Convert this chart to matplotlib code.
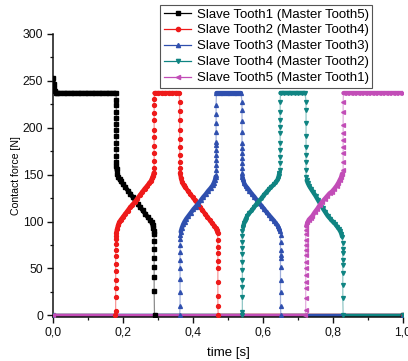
import numpy as np
import matplotlib
matplotlib.use("Agg")
import matplotlib.pyplot as plt
from matplotlib.ticker import MultipleLocator, FixedLocator, FixedFormatter

plt.rcParams['font.family'] = ['Liberation Sans', 'DejaVu Sans']

# ---------------- data ----------------
labels = ["Slave Tooth1 (Master Tooth5)", "Slave Tooth2 (Master Tooth4)",
          "Slave Tooth3 (Master Tooth3)", "Slave Tooth4 (Master Tooth2)",
          "Slave Tooth5 (Master Tooth1)"]

t_tooth1 = [0.000, 0.002, 0.004, 0.006, 0.009, 0.012,
            0.020, 0.030, 0.040, 0.050, 0.060, 0.070, 0.080, 0.090, 0.100,
            0.110, 0.120, 0.130, 0.140, 0.150, 0.160, 0.170, 0.180,
            0.181, 0.181, 0.181, 0.181, 0.181, 0.181, 0.181, 0.181, 0.181, 0.181, 0.181, 0.181,
            0.182, 0.184, 0.187, 0.190, 0.194, 0.200, 0.207, 0.214, 0.221, 0.228, 0.235,
            0.242, 0.249, 0.256, 0.263, 0.270, 0.277, 0.282, 0.285, 0.287, 0.289,
            0.289, 0.289, 0.289, 0.289, 0.289, 0.289, 0.289,
            0.290, 1.000]
f_tooth1 = [253, 247, 242, 239, 237.5, 237,
            237, 237, 237, 237, 237, 237, 237, 237, 237,
            237, 237, 237, 237, 237, 237, 237, 237,
            230, 224, 217, 210, 204, 198, 191, 184, 177, 170, 164, 159,
            156, 151, 147, 145, 143, 140, 136.5, 133, 129.5, 126, 122.5,
            119, 115.5, 112, 108.5, 105, 102, 99, 96, 93, 90,
            87, 79, 71, 61, 52, 41, 26,
            0, 0]

t_tooth2 = [0.000, 0.178,
            0.179, 0.179, 0.179, 0.179, 0.179, 0.179, 0.179, 0.179, 0.179, 0.179, 0.179,
            0.181, 0.183, 0.186, 0.189, 0.193, 0.199, 0.206, 0.213, 0.220, 0.227, 0.234,
            0.241, 0.248, 0.255, 0.262, 0.269, 0.275, 0.280, 0.283, 0.286, 0.288,
            0.289, 0.289, 0.289, 0.289, 0.289, 0.289, 0.289, 0.289, 0.289, 0.289,
            0.290, 0.300, 0.310, 0.320, 0.330, 0.340, 0.350, 0.360,
            0.362, 0.362, 0.362, 0.362, 0.362, 0.362, 0.362, 0.362, 0.362,
            0.363, 0.366, 0.369, 0.373, 0.378, 0.385, 0.392, 0.399, 0.406, 0.413,
            0.420, 0.427, 0.434, 0.441, 0.448, 0.455, 0.461, 0.465, 0.468, 0.470,
            0.471, 0.471, 0.471, 0.471, 0.471, 0.471, 0.471, 0.471,
            0.472, 1.000]
f_tooth2 = [0, 0,
            5, 19, 29, 38, 47, 55, 63, 70, 76, 81, 85,
            88, 92, 96, 99, 101.5, 104.5, 108, 111.5, 115, 118, 121,
            124.5, 128, 131.5, 135, 138, 141, 143.5, 146, 149, 152,
            157, 165, 173, 181, 190, 198, 208, 216, 224, 231,
            237, 237, 237, 237, 237, 237, 237, 237,
            228, 218, 208, 198, 188, 179, 171, 163, 157,
            152, 146, 142, 139, 136.5, 133, 129.5, 126, 122.5, 119,
            115.5, 112, 108.5, 105, 101.5, 98, 95.5, 93, 90.5, 88,
            80, 73, 66, 58, 50, 36, 21, 10,
            0, 0]

t_tooth3 = [0.000, 0.362,
            0.363, 0.363, 0.363, 0.363, 0.363, 0.363, 0.363, 0.363, 0.363,
            0.365, 0.368, 0.372, 0.376, 0.381, 0.387, 0.394, 0.401, 0.408, 0.415,
            0.422, 0.429, 0.436, 0.443, 0.450, 0.456, 0.460, 0.463, 0.465,
            0.466, 0.466, 0.466, 0.466, 0.466, 0.466, 0.466, 0.466, 0.466, 0.466, 0.466, 0.466,
            0.467, 0.477, 0.487, 0.497, 0.507, 0.517, 0.527, 0.537,
            0.540, 0.540, 0.540, 0.540, 0.540, 0.540, 0.540, 0.540, 0.540, 0.540, 0.540,
            0.541, 0.543, 0.546, 0.550, 0.555, 0.561, 0.568, 0.575, 0.582, 0.589,
            0.596, 0.603, 0.610, 0.617, 0.624, 0.631, 0.637, 0.642, 0.645, 0.648,
            0.650, 0.650, 0.650, 0.650, 0.650, 0.650, 0.650, 0.650, 0.650,
            0.651, 1.000]
f_tooth3 = [0, 0,
            10, 25, 39, 50, 59, 68, 75, 81, 86,
            89, 93, 97, 100, 103, 106, 109.5, 113, 116, 119,
            122.5, 126, 129, 132.5, 135.5, 138.5, 141.5, 144.5, 148,
            150, 155, 160, 166, 171, 176, 182, 185, 195, 205, 215, 224,
            237, 237, 237, 237, 237, 237, 237, 237,
            228, 219, 207, 196, 184, 178, 173, 168, 162, 157, 152,
            148, 145, 141, 138, 136, 133, 129.5, 126.5, 123, 120,
            116.5, 113.5, 110, 107, 104, 101, 98, 95.5, 93, 90,
            86, 78, 70, 64, 61, 52, 38, 25, 10,
            0, 0]

t_tooth4 = [0.000, 0.540,
            0.541, 0.541, 0.541, 0.541, 0.541, 0.541, 0.541, 0.541, 0.541, 0.541, 0.541,
            0.543, 0.546, 0.550, 0.555, 0.561, 0.568, 0.575, 0.582, 0.589, 0.596,
            0.603, 0.610, 0.617, 0.624, 0.631, 0.637, 0.642, 0.645, 0.647,
            0.649, 0.649, 0.649, 0.649, 0.649, 0.649, 0.649, 0.649, 0.649, 0.649,
            0.650, 0.660, 0.670, 0.680, 0.690, 0.700, 0.710, 0.720,
            0.723, 0.723, 0.723, 0.723, 0.723, 0.723, 0.723, 0.723, 0.723,
            0.725, 0.728, 0.732, 0.737, 0.743, 0.750, 0.757, 0.764, 0.771, 0.778,
            0.785, 0.792, 0.799, 0.806, 0.812, 0.817, 0.821, 0.824, 0.826,
            0.828, 0.828, 0.828, 0.828, 0.828, 0.828, 0.828, 0.828,
            0.829, 1.000]
f_tooth4 = [0, 0,
            4, 19, 30, 38, 48, 57, 65, 72, 78, 85, 90,
            94, 98, 102, 106, 109, 112, 115.5, 119, 122, 125,
            128.5, 131.5, 134.5, 137, 139.5, 142, 145, 148.5, 152,
            155, 162, 169, 176.5, 183.5, 194, 201, 208, 217, 228,
            237, 237, 237, 237, 237, 237, 237, 237,
            228, 219, 205, 191, 180, 171, 164, 155, 148,
            144, 141, 138, 135, 131.5, 127.5, 123, 118.5, 114, 110,
            106, 103, 100, 97.5, 94.5, 92, 89.5, 87, 84,
            77, 71, 66, 59, 54, 45, 32, 18,
            0, 0]

t_tooth5 = [0.000, 0.721,
            0.722, 0.722, 0.722, 0.722, 0.722, 0.722, 0.722, 0.722, 0.722, 0.722, 0.722, 0.722, 0.722,
            0.724, 0.727, 0.731, 0.736, 0.741, 0.748, 0.755, 0.762, 0.769, 0.776,
            0.783, 0.790, 0.797, 0.804, 0.810, 0.815, 0.819, 0.823, 0.826,
            0.829, 0.829, 0.829, 0.829, 0.829, 0.829, 0.829, 0.829, 0.829,
            0.830, 0.840, 0.850, 0.860, 0.870, 0.880, 0.890, 0.900, 0.910,
            0.920, 0.930, 0.940, 0.950, 0.960, 0.970, 0.980, 0.990, 1.000]
f_tooth5 = [0, 0,
            6, 18, 29, 36, 43, 50, 57, 64, 70, 75, 80, 87, 91,
            95, 99, 102, 104, 106, 110, 113.5, 117.5, 121, 124,
            127, 130, 132, 135, 138, 141, 144, 147, 151,
            155, 164, 173, 180, 187, 194, 203, 217, 228,
            237, 237, 237, 237, 237, 237, 237, 237, 237,
            237, 237, 237, 237, 237, 237, 237, 237, 237]

x_ticks = [0.0, 0.2, 0.4, 0.6, 0.8, 1.0]
x_tick_labels = ["0,0", "0,2", "0,4", "0,6", "0,8", "1,0"]
y_ticks = [0, 50, 100, 150, 200, 250, 300]

# ---------------- styles ----------------
colors = ["#000000", "#ee1a1a", "#2f4fae", "#0f8482", "#c24db7"]
markers = ["s", "o", "^", "v", "<"]

series_t = [t_tooth1, t_tooth2, t_tooth3, t_tooth4, t_tooth5]
series_f = [f_tooth1, f_tooth2, f_tooth3, f_tooth4, f_tooth5]

fig = plt.figure(figsize=(4.08, 3.61), dpi=100)
ax = fig.add_axes([53 / 408, (361 - 316.7) / 361, 350 / 408, (316.7 - 34) / 361])

handles = []
for t, f, c, m, lab in zip(series_t, series_f, colors, markers, labels):
    t = np.asarray(t)
    f = np.asarray(f, dtype=float)
    # points not belonging to a vertical (same-time) run form the dense, thick parts
    same_prev = np.r_[False, t[1:] == t[:-1]]
    same_next = np.r_[t[:-1] == t[1:], False]
    dense = ~(same_prev | same_next) & (f > 0)
    ax.plot(t, f, color=c, lw=0.9, alpha=0.45, zorder=2)
    ax.plot(t, np.where(f == 0, 0.0, np.nan), color=c, lw=2.4, zorder=2,
            solid_capstyle="butt")
    ax.plot(t, np.where(dense, f, np.nan), color=c, lw=3.2, zorder=3,
            solid_capstyle="round")
    ax.plot(t, f, linestyle="none", marker=m, ms=2.8, color=c, mec=c, zorder=3)
    h, = ax.plot([], [], color=c, lw=0.9, marker=m, ms=3.0, mec=c)
    handles.append(h)

ax.set_xlim(0.0, 1.0)
ax.set_ylim(-1.5, 300)
ax.xaxis.set_major_locator(FixedLocator(x_ticks))
ax.xaxis.set_major_formatter(FixedFormatter(x_tick_labels))
ax.xaxis.set_minor_locator(MultipleLocator(0.1))
ax.yaxis.set_major_locator(FixedLocator(y_ticks))
ax.yaxis.set_minor_locator(MultipleLocator(25))

for side in ["top", "right"]:
    ax.spines[side].set_visible(False)
for side in ["left", "bottom"]:
    ax.spines[side].set_linewidth(1.1)
    ax.spines[side].set_color("#111111")

ax.tick_params(which="major", direction="out", length=4.5, width=1.0,
               labelsize=8.8, colors="#111111", pad=2.5)
ax.tick_params(which="minor", direction="out", length=2.5, width=0.9, colors="#111111")

ax.set_xlabel("time [s]", fontsize=9.5, labelpad=6)
ax.set_ylabel("Contact force [N]", fontsize=7.6, labelpad=1)

leg = ax.legend(handles, labels, loc="upper right",
                bbox_to_anchor=((372 - 53) / 350, (316.7 - 5) / 282.7),
                borderaxespad=0, fontsize=9.5, frameon=True, fancybox=False,
                framealpha=1, edgecolor="#555555", handlelength=2.1,
                handletextpad=0.4, labelspacing=0.28, borderpad=0.25)
leg.get_frame().set_linewidth(0.8)

fig.savefig("out.png", dpi=100)
